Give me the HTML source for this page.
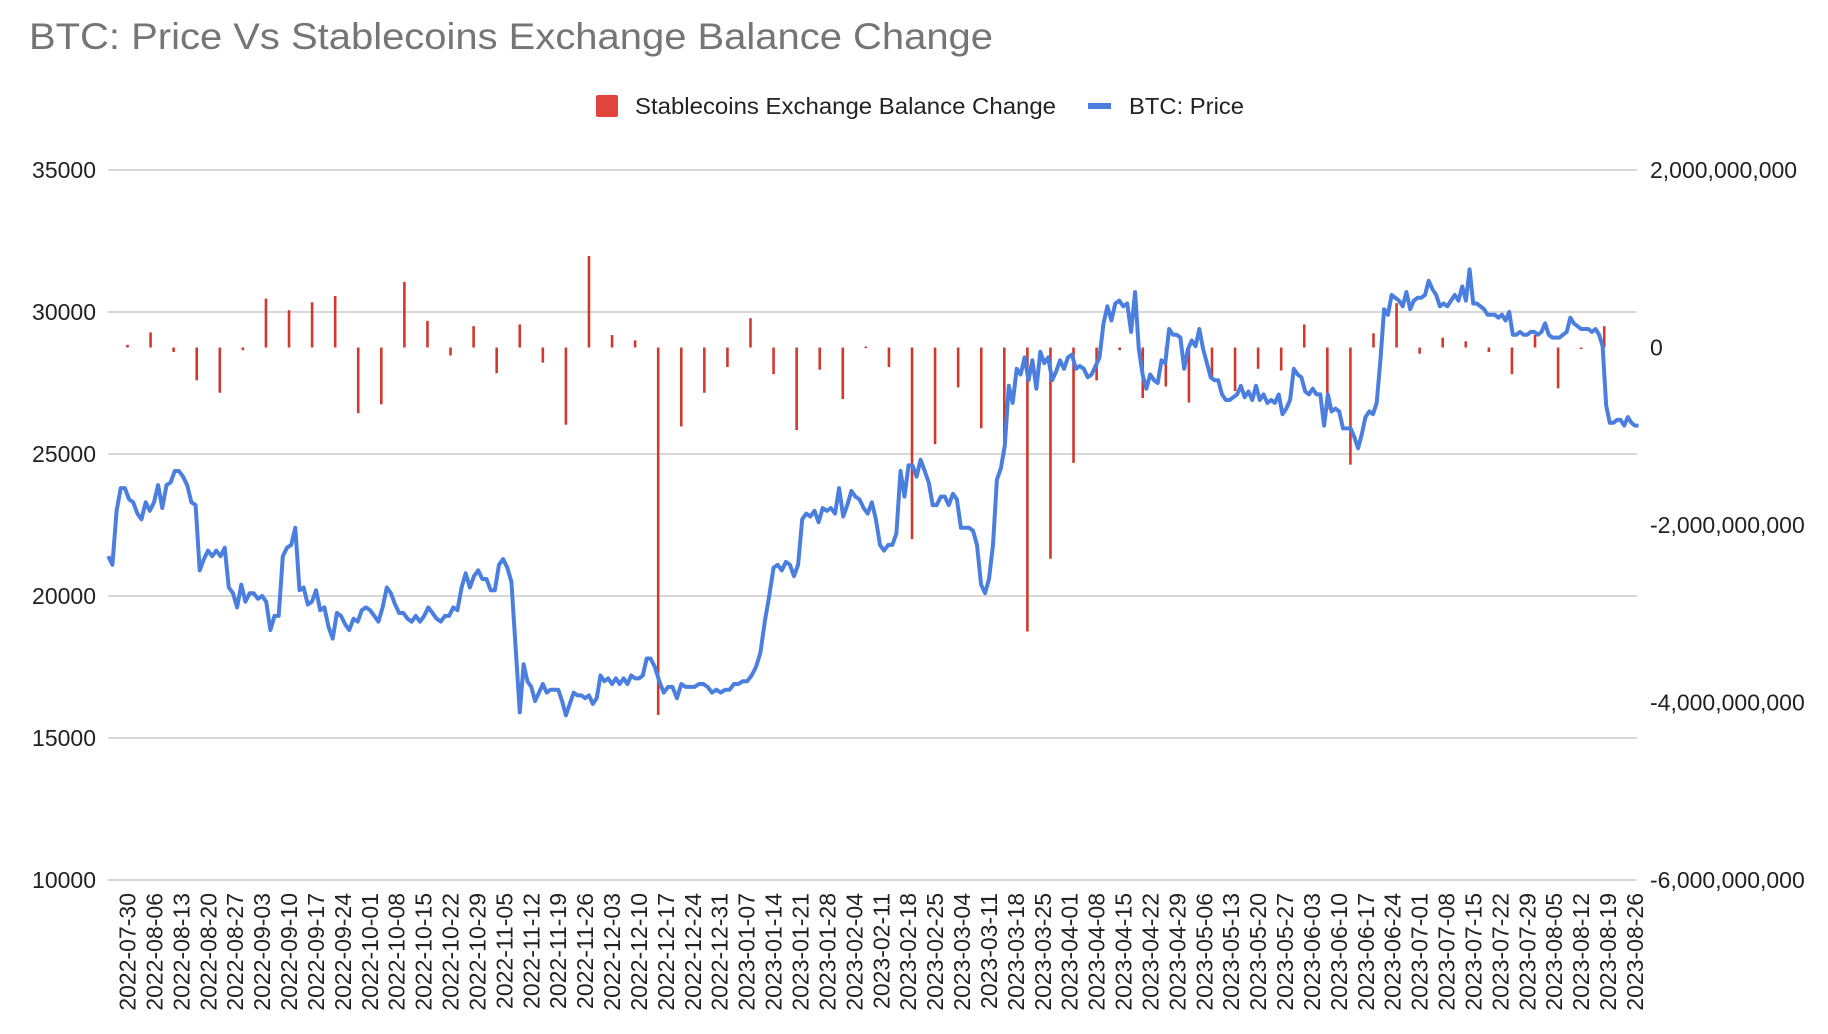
<!DOCTYPE html>
<html><head><meta charset="utf-8">
<style>
html,body{margin:0;padding:0;background:#fff;}
svg{display:block;font-family:"Liberation Sans",Arial,sans-serif;}
</style></head>
<body>
<svg id="chart" width="1828" height="1034" viewBox="0 0 1828 1034" xmlns="http://www.w3.org/2000/svg">
<text x="29" y="49" font-size="37" fill="#757575" textLength="964" lengthAdjust="spacingAndGlyphs">BTC: Price Vs Stablecoins Exchange Balance Change</text>
<g>
<g>
<rect x="596" y="95" width="22" height="22" rx="2" fill="#e0443a"/>
<text x="635" y="114" font-size="23" fill="#222" textLength="421" lengthAdjust="spacingAndGlyphs">Stablecoins Exchange Balance Change</text>
</g>
<g>
<rect x="1088" y="103" width="23" height="6" fill="#4a7fe0"/>
<text x="1129" y="114" font-size="23" fill="#222" textLength="115" lengthAdjust="spacingAndGlyphs">BTC: Price</text>
</g>
</g>
<g id="grid"></g>
<g id="leftAxis"></g>
<g id="rightAxis"></g>
<g id="xAxis"></g>
<g id="bars"></g>
<g id="line"></g>
</svg>
<script>
const leftTicks = [10000, 15000, 20000, 25000, 30000, 35000];
const rightTicks = [-6000000000, -4000000000, -2000000000, 0, 2000000000];
const rightTickLabels = ["-6,000,000,000", "-4,000,000,000", "-2,000,000,000", "0", "2,000,000,000"];
const priceAnchorIndex = [0, 99, 133, 161, 192, 213, 251, 310, 340, 386];
const priceAnchorDate = ["2022-07-25","2022-11-09","2022-12-13","2023-01-14","2023-02-16","2023-03-10","2023-04-18","2023-06-15","2023-07-14","2023-08-26"];
const prices = [21400,21100,23000,23800,23800,23400,23300,22900,22700,23300,23000,23300,23900,23100,23900,24000,24400,24400,24200,23900,23300,23200,20900,21300,21600,21400,21600,21400,21700,20300,20100,19600,20400,19800,20100,20100,19900,20000,19800,18800,19300,19300,21400,21700,21800,22400,20200,20300,19700,19800,20200,19500,19600,18900,18500,19400,19300,19000,18800,19200,19100,19500,19600,19500,19300,19100,19600,20300,20100,19700,19400,19400,19200,19100,19300,19100,19300,19600,19400,19200,19100,19300,19300,19600,19500,20300,20800,20300,20700,20900,20600,20600,20200,20200,21100,21300,21000,20500,18200,15900,17600,17000,16800,16300,16600,16900,16600,16700,16700,16700,16300,15800,16200,16600,16500,16500,16400,16500,16200,16400,17200,17000,17100,16900,17100,16900,17100,16900,17200,17100,17100,17200,17800,17800,17500,17000,16600,16800,16800,16400,16900,16800,16800,16800,16900,16900,16800,16600,16700,16600,16700,16700,16900,16900,17000,17000,17200,17500,18000,19100,20000,21000,21100,20900,21200,21100,20700,21100,22700,22900,22800,23000,22600,23100,23000,23100,22900,23800,22800,23200,23700,23500,23400,23100,22900,23300,22700,21800,21600,21800,21800,22200,24400,23500,24600,24600,24200,24800,24400,24000,23200,23200,23500,23500,23200,23600,23400,22400,22400,22400,22300,21800,20400,20100,20600,21800,24100,24500,25300,27400,26800,28000,27800,28400,27600,28300,27300,28600,28200,28400,27600,27900,28300,28000,28400,28500,28000,28100,28000,27700,27800,28100,28400,29600,30200,29700,30300,30400,30200,30300,29300,30700,28700,27800,27300,27800,27600,27500,28300,28200,29400,29200,29200,29100,28000,28700,29000,28800,29400,28700,28200,27700,27600,27600,27100,26900,26900,27000,27100,27400,27000,27200,26900,27400,26900,27100,26800,26900,26800,27100,26400,26600,26900,28000,27800,27700,27200,27100,27300,27100,27100,26000,27100,26500,26600,26500,25900,25900,25900,25600,25200,25700,26300,26500,26400,26800,28300,30100,29900,30600,30500,30400,30200,30700,30100,30400,30500,30500,30600,31100,30800,30600,30200,30300,30200,30400,30600,30400,30900,30400,31500,30300,30300,30200,30100,29900,29900,29900,29800,29900,29700,30000,29200,29200,29300,29200,29200,29300,29300,29200,29300,29600,29200,29100,29100,29100,29200,29300,29800,29600,29500,29400,29400,29400,29300,29400,29200,28800,26700,26100,26100,26200,26200,26000,26300,26100,26000,26000];
const barStart = "2022-07-30";
const barStepDays = 6;
const balanceChangeBillions = [0.03,0.17,-0.05,-0.37,-0.51,-0.03,0.55,0.42,0.51,0.58,-0.74,-0.64,0.74,0.30,-0.09,0.24,-0.29,0.26,-0.17,-0.87,1.03,0.14,0.08,-4.14,-0.89,-0.51,-0.22,0.33,-0.30,-0.93,-0.25,-0.58,0.01,-0.22,-2.16,-1.09,-0.45,-0.91,-1.21,-3.2,-2.38,-1.30,-0.37,-0.03,-0.57,-0.44,-0.62,-0.33,-0.49,-0.24,-0.26,0.26,-0.7,-1.32,0.16,0.50,-0.07,0.11,0.07,-0.05,-0.30,0.14,-0.46,-0.01,0.24];
const xTickStart = "2022-07-30";
const xTickCount = 57;

const NS = "http://www.w3.org/2000/svg";
const PL = 108, PR = 1637, PT = 170, PB = 880;
const X0 = 127.5, PXDAY = (1635 - 127.5) / 392;
const ORIGIN = Date.UTC(2022, 6, 30);
function dayOf(s){const p=s.split("-").map(Number);return (Date.UTC(p[0],p[1]-1,p[2])-ORIGIN)/86400000;}
function xDay(d){return X0 + d*PXDAY;}
function yLeft(v){return PB - (v-10000)/25000*(PB-PT);}
function yRight(v){return PT + (2e9 - v)/8e9*(PB-PT);}
function el(tag, attrs, parent){const e=document.createElementNS(NS,tag);for(const k in attrs)e.setAttribute(k,attrs[k]);parent.appendChild(e);return e;}
function fmtDate(d){const t=new Date(ORIGIN+d*86400000);return t.toISOString().slice(0,10);}
function priceDay(i){
  for(let k=0;k<priceAnchorIndex.length-1;k++){
    const a=priceAnchorIndex[k], b=priceAnchorIndex[k+1];
    if(i<=b||k===priceAnchorIndex.length-2){
      const da=dayOf(priceAnchorDate[k]), db=dayOf(priceAnchorDate[k+1]);
      return da+(db-da)*(i-a)/(b-a);
    }
  }
}

const grid=document.getElementById("grid"), la=document.getElementById("leftAxis"), ra=document.getElementById("rightAxis"), xa=document.getElementById("xAxis");
leftTicks.forEach(v=>{
  const y=yLeft(v);
  const g=el("line",{x1:PL,x2:PR,y1:y,y2:y,stroke:"#cccccc","stroke-width":1.5},grid);
  
  
  const t=el("text",{x:96,y:y+8,"font-size":23,"text-anchor":"end",fill:"#222"},la);
  t.textContent=String(v);
  
  
});
rightTicks.forEach((v,i)=>{
  const t=el("text",{x:1650,y:yRight(v)+8,"font-size":23,fill:"#222"},ra);
  t.textContent=rightTickLabels[i];
  
  
});
const xs0=dayOf(xTickStart);
for(let i=0;i<xTickCount;i++){
  const d=xs0+7*i, x=xDay(d);
  const t=el("text",{x:0,y:0,"font-size":23,"text-anchor":"end",fill:"#222",transform:"translate("+(x+8)+",893) rotate(-90)"},xa);
  t.textContent=fmtDate(d);
  
  
}
const bars=document.getElementById("bars");
const b0=dayOf(barStart), y0=yRight(0);
balanceChangeBillions.forEach((v,i)=>{
  const x=xDay(b0+barStepDays*i), y=yRight(v*1e9);
  const r=el("rect",{x:x-1.3,y:Math.min(y,y0),width:2.6,height:Math.max(1.5,Math.abs(y-y0)),fill:"#d0392e"},bars);
  
  
});
const line=document.getElementById("line");
const pts=prices.map((v,i)=>xDay(priceDay(i)).toFixed(1)+","+yLeft(v).toFixed(1)).join(" ");
const pl=el("polyline",{points:pts,fill:"none",stroke:"#4a7fe0","stroke-width":4,"stroke-linejoin":"round"},line);


</script>
</body></html>
